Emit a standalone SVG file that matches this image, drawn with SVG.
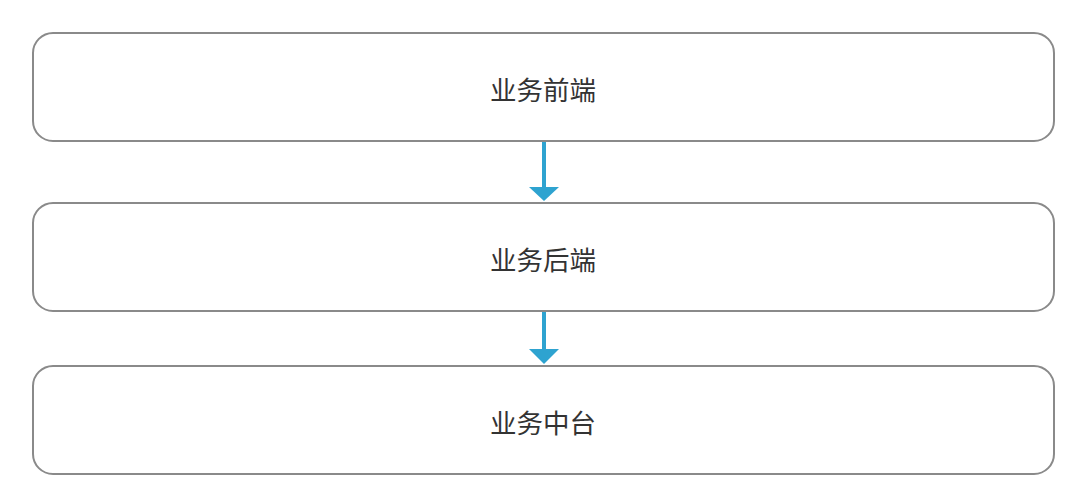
<svg xmlns="http://www.w3.org/2000/svg" width="1080" height="491" viewBox="0 0 1080 491">
<defs>
<style>
.box{fill:#fff;stroke:#8a8a8a;stroke-width:2}
.lbl{font-family:"Noto Sans CJK SC","Liberation Sans",sans-serif;font-size:26.5px;fill:#333;text-anchor:middle;dominant-baseline:central}
.conn{stroke:#2ea3d0;stroke-width:4;fill:none}
.head{fill:#2ea3d0}
</style>
</defs>
<rect width="1080" height="491" fill="#fff"/>
<g id="node-front">
<rect class="box" x="33" y="33" width="1021" height="108" rx="20"/>
<text class="lbl" x="543" y="88">业务前端</text>
</g>
<g id="node-back">
<rect class="box" x="33" y="203" width="1021" height="108" rx="20"/>
<text class="lbl" x="543" y="258">业务后端</text>
</g>
<g id="node-middle">
<rect class="box" x="33" y="366" width="1021" height="108" rx="20"/>
<text class="lbl" x="543" y="421">业务中台</text>
</g>
<g id="connectors">
<line class="conn" x1="544" y1="142" x2="544" y2="188"/>
<polygon class="head" points="529,187 559,187 544,201"/>
<line class="conn" x1="544" y1="312" x2="544" y2="350"/>
<polygon class="head" points="529,349 559,349 544,364"/>
</g>
</svg>
